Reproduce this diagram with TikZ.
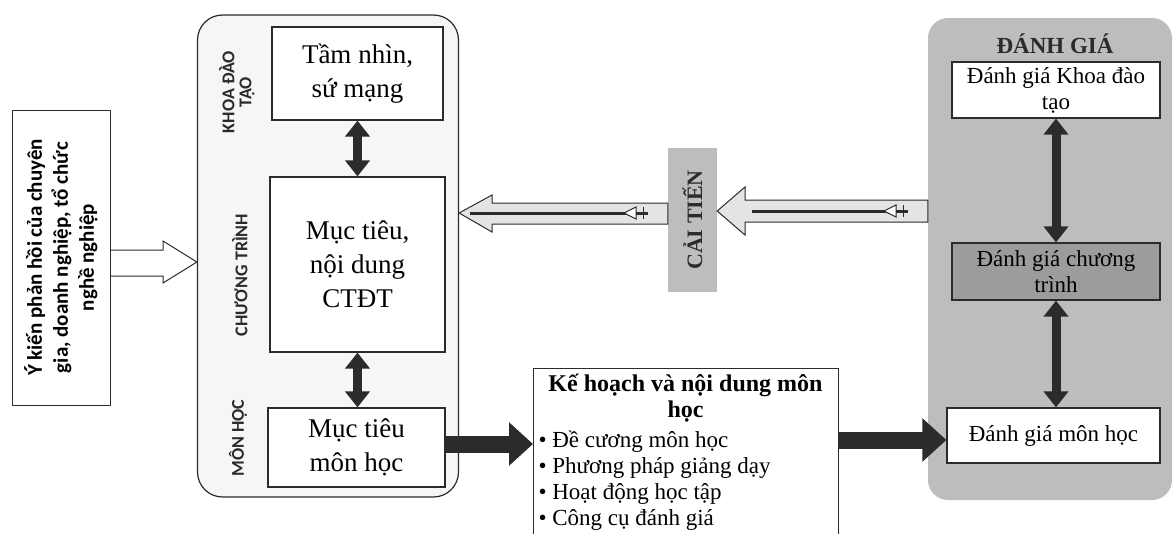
\documentclass[tikz,border=0pt]{standalone}
\usepackage{fontspec}
\setmainfont{Liberation Serif}
\newfontfamily\calfont{Carlito}
\usetikzlibrary{arrows.meta}
\definecolor{ink}{HTML}{2B2B2B}
\definecolor{panel}{HTML}{BDBDBD}
\definecolor{darkbox}{HTML}{9C9C9C}
\definecolor{hollow}{HTML}{E4E4E4}
\definecolor{lightpanel}{HTML}{F6F6F6}
\tikzset{
  box/.style={draw=ink, line width=1.2pt, fill=white, align=center, inner sep=2pt},
  dbl/.style={draw=ink, line width=9pt, {Triangle[width=24pt,length=16pt]}-{Triangle[width=24pt,length=16pt]}},
  fat/.style={draw=ink, line width=17pt, -{Triangle[width=42pt,length=24pt]}},
  vlabel/.style={rotate=90, font=\calfont\bfseries\fontsize{18}{17}\selectfont, align=center, text=ink},
  hollowarrow/.style={draw=ink, line width=1pt, fill=hollow},
  innerline/.style={draw=ink, line width=3pt},
  tinytip/.style={draw=ink, line width=1pt, fill=white},
  big/.style={font=\fontsize{27}{34}\selectfont},
  mid/.style={font=\fontsize{23}{26}\selectfont},
}
\begin{document}
\begin{tikzpicture}[x=1pt,y=-1pt]
\useasboundingbox (0,0) rectangle (1173,533);
\clip (0,0) rectangle (1173,533);

% left feedback box
\node[draw=ink, line width=1pt, rotate=90, minimum width=295, minimum height=98, align=center,
      font=\calfont\bfseries\fontsize{21}{26}\selectfont] (fb) at (61,257.5)
  {Ý kiến phản hồi của chuyên\\gia, doanh nghiệp, tổ chức\\nghề nghiệp};

% big rounded container
\node[draw=ink, line width=1.2pt, rounded corners=25pt, minimum width=261, minimum height=482, fill=lightpanel] (prog) at (328,256) {};

% feedback arrow
\draw[draw=ink, line width=1pt] (fb.south |- 0,250) -- (163,250) -- (163,241) -- (prog.west |- 0,262) -- (163,283) -- (163,276) -- (fb.south |- 0,276);

% vertical labels
\node[vlabel] (lk) at (237,92) {KHOA ĐÀO\\TẠO};
\node[vlabel] (lc) at (240,275) {CHƯƠNG TRÌNH};
\node[vlabel] (lm) at (238,438) {MÔN HỌC};

% program boxes
\node[box, big, minimum width=171, minimum height=93] (tam) at (357.5,73.5) {Tầm nhìn,\\sứ mạng};
\node[box, big, minimum width=175, minimum height=175] (ctdt) at (357.5,264.5) {Mục tiêu,\\nội dung\\CTĐT};
\node[box, big, minimum width=177, minimum height=79] (mtmh) at (356.5,447.5) {Mục tiêu\\môn học};

\draw[dbl] (tam.south) -- (ctdt.north);
\draw[dbl] (ctdt.south) -- (ctdt.south |- mtmh.north);

% ke hoach box
\node[draw=ink, line width=1.2pt, fill=white, anchor=north west, minimum width=305, minimum height=200] (kh) at (533,368) {};
\node[font=\bfseries\fontsize{24}{26}\selectfont, align=center] (khtitle) at (685.5,398) {Kế hoạch và nội dung môn\\học};
\node[mid, anchor=west, align=left] (khlist) at (535,481) {\textbullet{} Đề cương môn học\\\textbullet{} Phương pháp giảng dạy\\\textbullet{} Hoạt động học tập\\\textbullet{} Công cụ đánh giá};

% right panel
\node[draw=none, fill=panel, rounded corners=20pt, minimum width=244, minimum height=482] (dg) at (1050,259) {};
\node[font=\bfseries\fontsize{23}{25}\selectfont, text=ink] (dgtitle) at (1055,44) {ĐÁNH GIÁ};
\node[box, mid, minimum width=208, minimum height=56] (dgk) at (1056,90) {Đánh giá Khoa đào\\tạo};
\node[box, mid, fill=darkbox, minimum width=208, minimum height=57] (dgc) at (1056,271.5) {Đánh giá chương\\trình};
\node[box, mid, minimum width=213, minimum height=55] (dgm) at (1053.5,435.5) {Đánh giá môn học};

\draw[dbl] (dgk.south) -- (dgc.north);
\draw[dbl] (dgc.south) -- (dgc.south |- dgm.north);

% fat arrows
\draw[fat] (mtmh.east |- 0,444) -- (kh.west |- 0,444);
\draw[fat] (kh.east |- 0,440) -- (dgm.west |- 0,440);

% cai tien
\node[rotate=90, fill=panel, minimum width=144, minimum height=49, font=\bfseries\fontsize{22}{25}\selectfont, text=ink] (cai) at (692.5,220) {CẢI TIẾN};

% hollow arrow: panel -> cai tien
\draw[hollowarrow] (cai.south |- 0,211) -- (745,187) -- (745,200) -- (dg.west |- 0,200) -- (dg.west |- 0,222) -- (745,222) -- (745,235) -- cycle;
\draw[innerline] (752,211) -- (890,211);
\draw[tinytip] (884,211) -- (896,205) -- (896,217) -- cycle;
\draw[innerline] (896,211) -- (908,211);
\draw[draw=ink, line width=1pt] (903,205) -- (903,217);

% hollow arrow: cai tien -> ctdt
\draw[hollowarrow] (prog.east |- 0,213) -- (492,195) -- (492,203) -- (cai.north |- 0,203) -- (cai.north |- 0,224) -- (492,224) -- (492,232) -- cycle;
\draw[innerline] (470,213) -- (628,213);
\draw[tinytip] (624,213) -- (636,207) -- (636,219) -- cycle;
\draw[innerline] (636,213) -- (648,213);
\draw[draw=ink, line width=1pt] (643,207) -- (643,219);
\end{tikzpicture}
\end{document}
